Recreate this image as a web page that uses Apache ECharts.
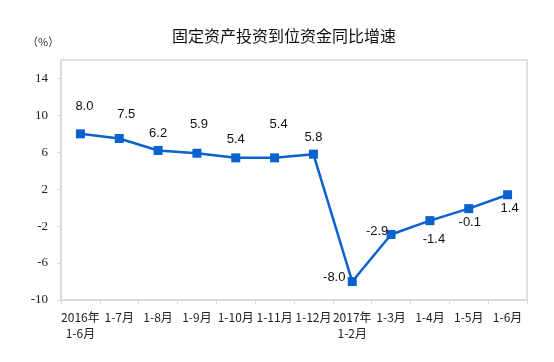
<!DOCTYPE html>
<html>
<head>
<meta charset="utf-8">
<script src="https://cdn.jsdelivr.net/npm/echarts@6/dist/echarts.min.js"></script>
<style>html,body{margin:0;padding:0;background:#fff;}#c{width:554px;height:362px;}</style>
</head>
<body>
<div id="c"></div>
<script>
var categories = ['2016年\n1-6月','1-7月','1-8月','1-9月','1-10月','1-11月','1-12月','2017年\n1-2月','1-3月','1-4月','1-5月','1-6月'];
var values = [8.0, 7.5, 6.2, 5.9, 5.4, 5.4, 5.8, -8.0, -2.9, -1.4, -0.1, 1.4];
var yTicks = {min: -10, max: 16, interval: 4};
var labelOffsets = [[4,-27],[7,-24],[0,-17],[2,-29],[0,-18],[4,-33],[0,-17],[-18,-4],[-14,-3],[4,19],[1,14],[2,14]];

var chart = echarts.init(document.getElementById('c'), null, {renderer: 'canvas'});
var seriesData = values.map(function (v, i) {
  return {value: v, label: {offset: labelOffsets[i]}};
});
chart.setOption({
  animation: false,
  title: [{
    text: '固定资产投资到位资金同比增速',
    left: 167, top: 23,
    textStyle: {fontFamily: 'Noto Sans CJK SC', fontSize: 16, fontWeight: 'normal', color: '#111'}
  }, {
    text: '（%）',
    left: 22, top: 31,
    textStyle: {fontFamily: 'Noto Sans CJK SC', fontSize: 11, fontWeight: 'normal', color: '#333'}
  }],
  grid: {left: 61, right: 27, top: 60, bottom: 62, show: true, borderColor: '#d9d9d9', borderWidth: 1.5},
  xAxis: {
    type: 'category',
    data: categories,
    boundaryGap: true,
    axisLine: {onZero: false, lineStyle: {color: '#d9d9d9', width: 1.5}},
    axisTick: {show: true, length: 4, lineStyle: {color: '#d9d9d9'}},
    axisLabel: {interval: 0, margin: 9, fontFamily: 'Noto Sans CJK SC', fontSize: 12, color: '#222', lineHeight: 16}
  },
  yAxis: {
    type: 'value',
    min: yTicks.min, max: yTicks.max, interval: yTicks.interval,
    splitLine: {show: false},
    axisLine: {show: true, lineStyle: {color: '#d9d9d9', width: 1.5}},
    axisTick: {show: true, length: 4, lineStyle: {color: '#d9d9d9'}},
    axisLabel: {
      showMaxLabel: false, margin: 13,
      fontFamily: '"Liberation Serif", "Times New Roman", serif', fontSize: 13, color: '#222',
      formatter: function (v) { return v === yTicks.max ? '' : String(v); }
    }
  },
  series: [{
    type: 'line',
    data: seriesData,
    symbol: 'rect',
    symbolSize: 9,
    lineStyle: {color: '#0a62cf', width: 2.5},
    itemStyle: {color: '#0a62cf'},
    label: {
      show: true, position: 'inside',
      fontFamily: 'Liberation Sans', fontSize: 13, color: '#111',
      formatter: function (p) { return p.value.toFixed(1); }
    }
  }]
});
</script>
</body>
</html>
